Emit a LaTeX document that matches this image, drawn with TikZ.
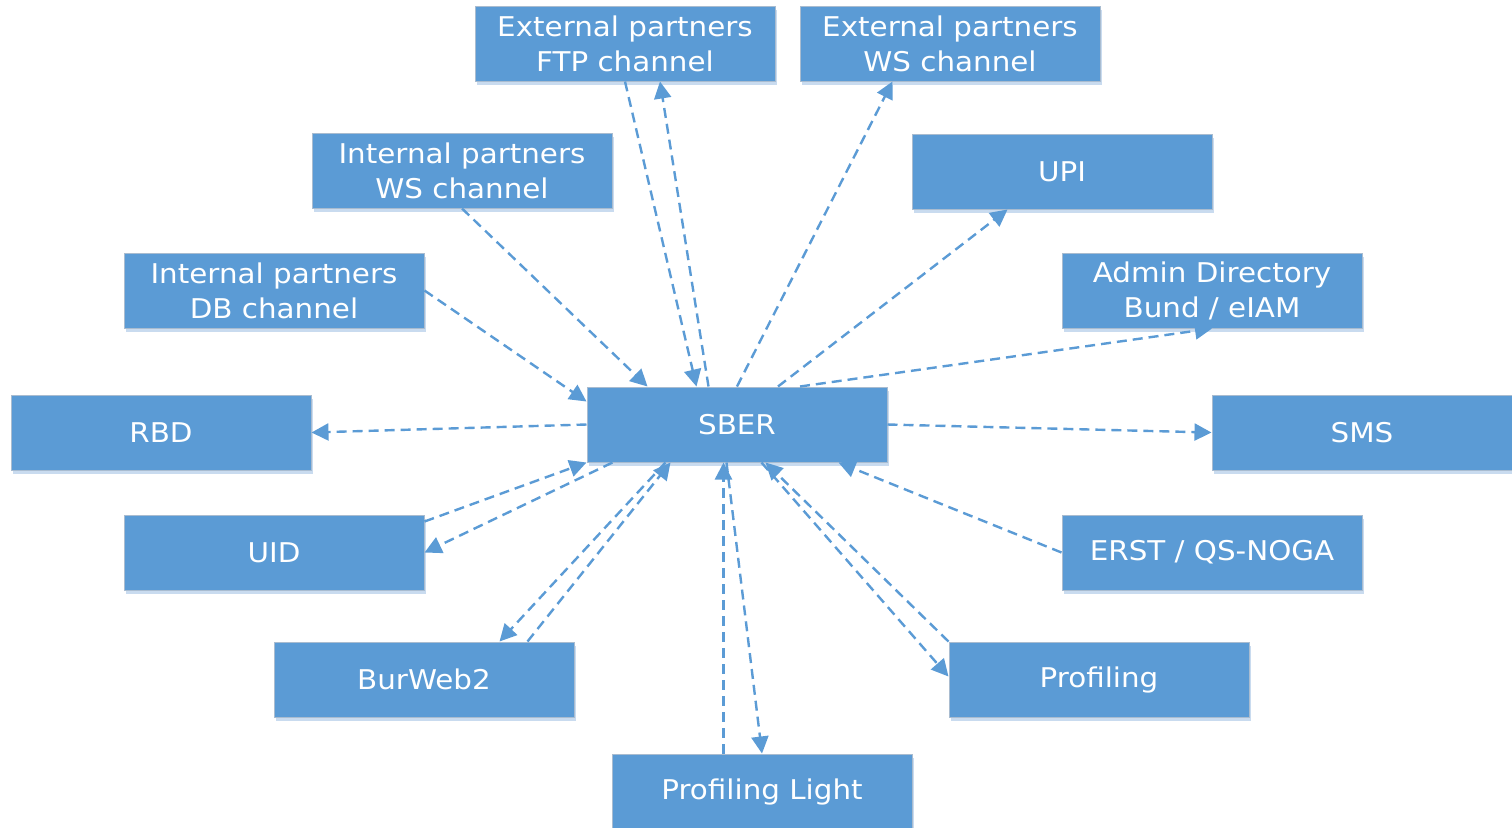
\documentclass[tikz,border=0pt]{standalone}
\usepackage{fontspec}
\setmainfont{DejaVu Sans}
\newfontfamily\boxfont[FakeStretch=1.08]{DejaVu Sans}
\usetikzlibrary{arrows.meta,shadows}
\definecolor{boxblue}{HTML}{5B9BD5}
\definecolor{boxedge}{HTML}{A9BCD0}
\definecolor{boxshade}{HTML}{C9DBEF}

\begin{document}
\begin{tikzpicture}[x=0.5pt,y=-0.5pt,
  sys/.style={rectangle,fill=boxblue,draw=boxedge,line width=0.5pt,text=white,
    minimum width=150pt,minimum height=37.5pt,inner sep=0pt,align=center,
    font=\boxfont\fontsize{13.6}{17.5}\selectfont,
    drop shadow={shadow xshift=0.8pt,shadow yshift=-2.2pt,fill=boxshade,opacity=1}},
  link/.style={color=boxblue,line width=1.2pt,dash pattern=on 5pt off 3pt,
    -{Triangle[length=8.5pt,width=8.5pt]}}]
  \useasboundingbox (0,0) rectangle (1512,827);

  \node[sys] (extftp) at (625,43.5) {External partners\\FTP channel};
  \node[sys] (extws) at (950,43.5) {External partners\\WS channel};
  \node[sys] (intws) at (462,170.5) {Internal partners\\WS channel};
  \node[sys] (upi) at (1062,171.5) {UPI};
  \node[sys] (intdb) at (274,290.5) {Internal partners\\DB channel};
  \node[sys] (admin) at (1212,290.5) {Admin Directory\\Bund / eIAM};
  \node[sys] (sber) at (737,424.5) {SBER};
  \node[sys] (rbd) at (161,432.5) {RBD};
  \node[sys] (sms) at (1362,432.5) {SMS};
  \node[sys] (uid) at (274,552.5) {UID};
  \node[sys] (erst) at (1212,552.5) {ERST / QS-NOGA};
  \node[sys] (burweb) at (424,679.5) {BurWeb2};
  \node[sys] (profiling) at (1099,679.5) {Profiling};
  \node[sys] (proflight) at (762,791.5) {Profiling Light};

  % upper half
  \path[link]
  (intdb.east) edge ([yshift=-7.5pt]sber.north west)
  (intws.south) edge ([xshift=30.5pt]sber.north west)
  (extftp.south) edge ([xshift=55pt]sber.north west)
  ([xshift=61pt]sber.north west) edge ([xshift=17.5pt]extftp.south)
  (sber.north) edge ([xshift=46.5pt]extws.south west)
  ([xshift=20.5pt]sber.north) edge ([xshift=48pt]upi.south west)
  ([xshift=31.5pt]sber.north) edge (admin.south)
  (sber.east) edge (sms.west)
  (sber.west) edge (rbd.east);

  % lower half
  \path[link]
  (erst.west) edge ([xshift=-24.5pt]sber.south east)
  (profiling.north west) edge ([xshift=-61pt]sber.south east)
  ([xshift=-63pt]sber.south east) edge ([yshift=-17.5pt]profiling.north west)
  ([xshift=56pt]proflight.north west) edge ([xshift=68.5pt]sber.south west)
  ([xshift=70pt]sber.south west) edge (proflight.north)
  ([xshift=127pt]burweb.north west) edge ([xshift=42pt]sber.south west)
  ([xshift=39.5pt]sber.south west) edge ([xshift=113pt]burweb.north west)
  ([yshift=-3.5pt]uid.north east) edge (sber.south west)
  ([xshift=13pt]sber.south west) edge (uid.east);
\end{tikzpicture}
\end{document}
